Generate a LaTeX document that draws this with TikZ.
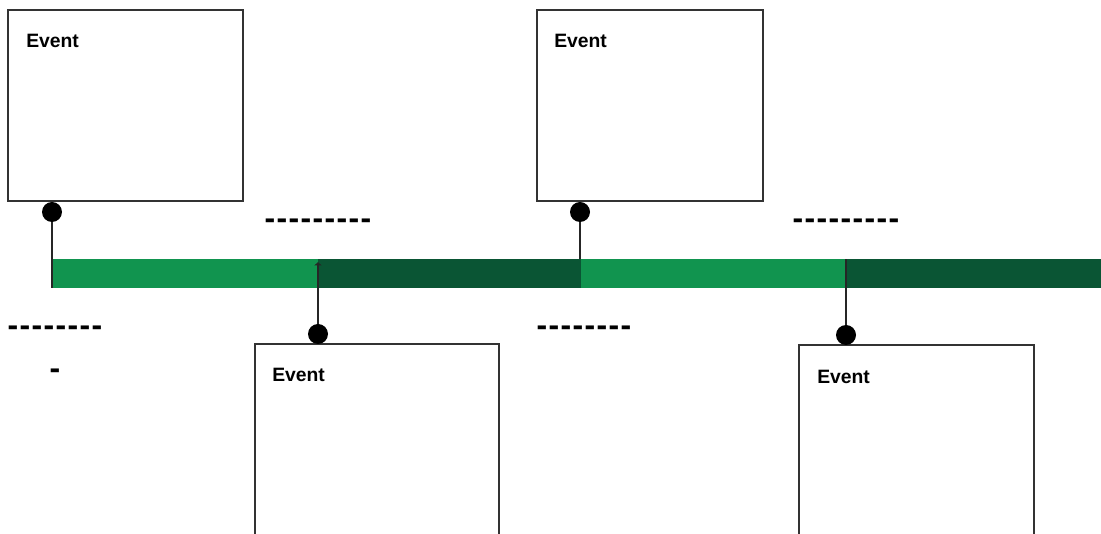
\documentclass[tikz,border=0pt]{standalone}
\usepackage{fontspec}
\setmainfont{Liberation Sans}
\newfontfamily\dashfont{DejaVu Sans}
\usetikzlibrary{arrows.meta}
\definecolor{lightg}{HTML}{11944F}
\definecolor{darkg}{HTML}{0A5534}
\definecolor{edge}{HTML}{333333}
\newcommand\hy{-\kern0.72pt}
\begin{document}
\begin{tikzpicture}[x=0.75pt,y=-0.75pt,
  eventbox/.style={draw=edge,line width=1.1pt,fill=white,inner sep=0},
  pin/.style={circle,fill=black,minimum size=15pt,inner sep=0},
  conn/.style={draw=black!85,line width=1.1pt},
  lbl/.style={anchor=base west,inner sep=0,font=\fontsize{14.5pt}{16pt}\selectfont\bfseries},
  dashlbl/.style={anchor=base west,inner sep=0,font=\dashfont\fontsize{20pt}{24pt}\selectfont\bfseries}]
\useasboundingbox (0,0) rectangle (1101,534);
\clip (0,0) rectangle (1101,534);
% timeline bar
\fill[lightg] (52,259) rectangle (318,288);
\fill[darkg] (318,259) rectangle (581,288);
\fill[lightg] (581,259) rectangle (846,288);
\fill[darkg] (846,259) rectangle (1101,288);
% boxes
\node[eventbox,minimum width=176.25pt,minimum height=143.25pt] (b1) at (125.5,105.5) {};
\node[eventbox,minimum width=169.5pt,minimum height=143.25pt] (b2) at (650,105.5) {};
\node[eventbox,minimum width=183pt,minimum height=162pt] (b3) at (377,452) {};
\node[eventbox,minimum width=176.25pt,minimum height=161.25pt] (b4) at (916.5,452.5) {};
% labels
\node[lbl] (t1) at (26,48) {Event};
\node[lbl] (t2) at (554,48) {Event};
\node[lbl] (t3) at (272,382) {Event};
\node[lbl] (t4) at (817,384) {Event};
% pins
\node[pin] (p1) at (52,212) {};
\node[pin] (p2) at (580,212) {};
\node[pin] (p3) at (318,334) {};
\node[pin] (p4) at (846,335) {};
\coordinate (e1) at (52,288);
\coordinate (e2) at (580,259);
\coordinate (e3) at (318,262);
\coordinate (e4) at (846,259);
\draw[conn] (p1) -- (e1);
\draw[conn] (p2) -- (e2);
\draw[conn,-{Latex[length=2.5pt,width=6pt]}] (p3) -- (e3);
\draw[conn] (p4) -- (e4);
% dash labels
\node[dashlbl] (d1) at (264,229) {\hy\hy\hy\hy\hy\hy\hy\hy\hy};
\node[dashlbl] (d2) at (792,229) {\hy\hy\hy\hy\hy\hy\hy\hy\hy};
\node[dashlbl] (d3) at (7,336) {\hy\hy\hy\hy\hy\hy\hy\hy};
\node[dashlbl] (d4) at (49,379) {\hy};
\node[dashlbl] (d5) at (536,336) {\hy\hy\hy\hy\hy\hy\hy\hy};
\end{tikzpicture}
\end{document}
